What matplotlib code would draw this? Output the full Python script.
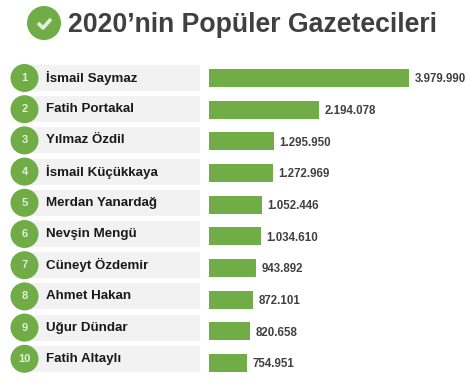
import matplotlib
matplotlib.use("Agg")
import matplotlib.pyplot as plt
from matplotlib.patches import Circle, Rectangle

names = ["İsmail Saymaz", "Fatih Portakal", "Yılmaz Özdil", "İsmail Küçükkaya",
         "Merdan Yanardağ", "Nevşin Mengü", "Cüneyt Özdemir", "Ahmet Hakan",
         "Uğur Dündar", "Fatih Altaylı"]
views = [3979990, 2194078, 1295950, 1272969, 1052446,
         1034610, 943892, 872101, 820658, 754951]
value_labels = ["3.979.990", "2.194.078", "1.295.950", "1.272.969", "1.052.446",
                "1.034.610", "943.892", "872.101", "820.658", "754.951"]
title = "2020’nin Popüler Gazetecileri"

GREEN = "#70ad47"
W, H = 471, 382

plt.rcParams["font.family"] = ["Liberation Sans", "DejaVu Sans"]
fig = plt.figure(figsize=(W / 100, H / 100), dpi=100, facecolor="white")

# background axes in pixel coordinates, for the title and the name rows
bg = fig.add_axes([0, 0, 1, 1])
bg.set_xlim(0, W)
bg.set_ylim(H, 0)
bg.axis("off")

# title with the check mark badge
bg.add_patch(Circle((44, 23), 17, color=GREEN, lw=0))
bg.plot([38, 43, 51], [23, 28, 19], color="#e4efdc", lw=2.6, solid_capstyle="butt")
bg.text(68, 25, title, fontsize=19.2, fontweight="bold", color="#404040", va="center", ha="left")

# name rows: grey strip, green circle with the rank
for i, name in enumerate(names):
    yc = 78 + i * 31.2
    bg.add_patch(Rectangle((30, yc - 13), 170, 26, color="#f2f2f2", lw=0))
    bg.add_patch(Circle((24.5, yc), 14, color=GREEN, lw=0))
    bg.text(24.5, yc, str(i + 1), fontsize=8, fontweight="bold", color="#e4efdc",
            ha="center", va="center")
    bg.text(46, yc, name, fontsize=9.6, fontweight="bold", color="#1a1a1a",
            ha="left", va="center")

# bars: axes starts at 209 px, the longest bar is 200 px long
ax = fig.add_axes([209 / W, 0, (W - 209) / W, 1])
ax.patch.set_alpha(0)
ax.axis("off")
ax.set_xlim(0, max(views) * (W - 209) / 200)
step = (363 - 78) / 9
ax.set_ylim((H - 78) / step, -78 / step)

positions = list(range(len(views)))
ax.barh(positions, views, height=18 / step, color=GREEN)
for pos, v, lab in zip(positions, views, value_labels):
    ax.annotate(lab, (v, pos), xytext=(4, -1), textcoords="offset points",
                fontsize=8.3, fontweight="bold", color="#404040", va="center", ha="left")

fig.savefig("out.png", dpi=100)
